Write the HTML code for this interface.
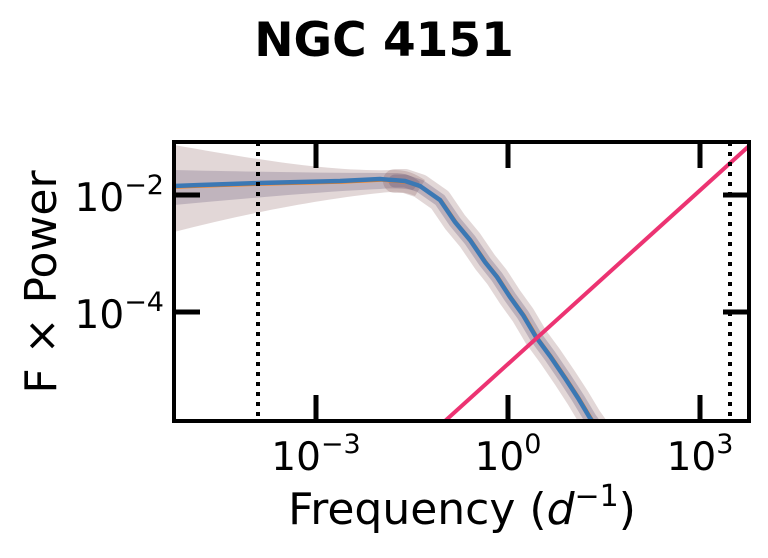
<!DOCTYPE html>
<html><head><style>body{margin:0;background:#fff}</style></head><body>
<svg width="768" height="553" xmlns="http://www.w3.org/2000/svg" style="font-family:'DejaVu Sans','Liberation Sans',sans-serif">
<rect width="768" height="553" fill="#fff"/>
<text x="384" y="56" style="font-size:47px;font-weight:bold" text-anchor="middle">NGC 4151</text>
<defs><clipPath id="c"><rect x="174" y="142" width="575" height="279"/></clipPath></defs>
<g clip-path="url(#c)">
<path d="M174,145 C260,160 330,172 395,170 C410,170 418,176 425,180 L415,196 C400,190 390,192 380,193 C330,198 250,212 174,232 Z" fill="#7a4a4a" fill-opacity="0.22"/>
<path d="M174,170 C260,172 330,173 395,173 C408,173 415,178 420,182 L413,190 C400,188 390,188 380,189 C330,191 250,198 174,205 Z" fill="#5a4a70" fill-opacity="0.25"/>
<path d="M395,181 L405,181 420,186 440,200 455,222 470,240 485,262 497,277 510,297 523,315 536,337 550,356 565,378 578,398 590,418 600,432" fill="none" stroke="#7a4a4a" stroke-opacity="0.22" stroke-width="24" stroke-linejoin="round" stroke-linecap="round"/>
<path d="M395,181 L405,181 420,186 440,200 455,222 470,240 485,262 497,277 510,297 523,315 536,337 550,356 565,378 578,398 590,418 600,432" fill="none" stroke="#5a4a70" stroke-opacity="0.28" stroke-width="13" stroke-linejoin="round" stroke-linecap="round"/>
<path d="M174,186 L200,185 230,184 260,183 300,182 340,181 380,179 405,181 420,186 440,200 455,222 470,240 485,262 497,277 510,297 523,315 536,337 550,356 565,378 578,398 590,418 600,432" fill="none" stroke="#ff7f0e" stroke-width="3.5" transform="translate(1.5,1)"/>
<path d="M174,186 L200,185 230,184 260,183 300,182 340,181 380,179 405,181 420,186 440,200 455,222 470,240 485,262 497,277 510,297 523,315 536,337 550,356 565,378 578,398 590,418 600,432" fill="none" stroke="#3b78b4" stroke-width="4.5"/>
<line x1="445" y1="421" x2="749" y2="146" stroke="#ec3372" stroke-width="4"/>
</g>
<line x1="258" y1="142" x2="258" y2="421" stroke="#000" stroke-width="4" stroke-dasharray="4,6"/>
<line x1="730" y1="142" x2="730" y2="421" stroke="#000" stroke-width="4" stroke-dasharray="4,6"/>
<rect x="174" y="142" width="575" height="279" fill="none" stroke="#000" stroke-width="4"/>
<g stroke="#000" stroke-width="5">
<line x1="316" y1="421" x2="316" y2="395"/><line x1="508" y1="421" x2="508" y2="395"/><line x1="700" y1="421" x2="700" y2="395"/>
<line x1="316" y1="142" x2="316" y2="168"/><line x1="508" y1="142" x2="508" y2="168"/><line x1="700" y1="142" x2="700" y2="168"/>
<line x1="174" y1="195" x2="200" y2="195"/><line x1="174" y1="312" x2="200" y2="312"/>
<line x1="749" y1="195" x2="723" y2="195"/><line x1="749" y1="312" x2="723" y2="312"/>
</g>
<g fill="#000">
<text x="164" y="211" text-anchor="end" style="font-size:39px">10<tspan dy="-17" style="font-size:27px">−2</tspan></text>
<text x="164" y="328" text-anchor="end" style="font-size:39px">10<tspan dy="-17" style="font-size:27px">−4</tspan></text>
<text x="316" y="470" text-anchor="middle" style="font-size:39px">10<tspan dy="-17" style="font-size:27px">−3</tspan></text>
<text x="508" y="470" text-anchor="middle" style="font-size:39px">10<tspan dy="-17" style="font-size:27px">0</tspan></text>
<text x="700" y="470" text-anchor="middle" style="font-size:39px">10<tspan dy="-17" style="font-size:27px">3</tspan></text>
<text x="462" y="524" text-anchor="middle" style="font-size:44px">Frequency (<tspan style="font-style:italic">d</tspan><tspan dy="-18" style="font-size:30px">−1</tspan><tspan dy="18">)</tspan></text>
<text transform="translate(56,282) rotate(-90)" text-anchor="middle" style="font-size:44px">F × Power</text>
</g>
</svg>
</body></html>
